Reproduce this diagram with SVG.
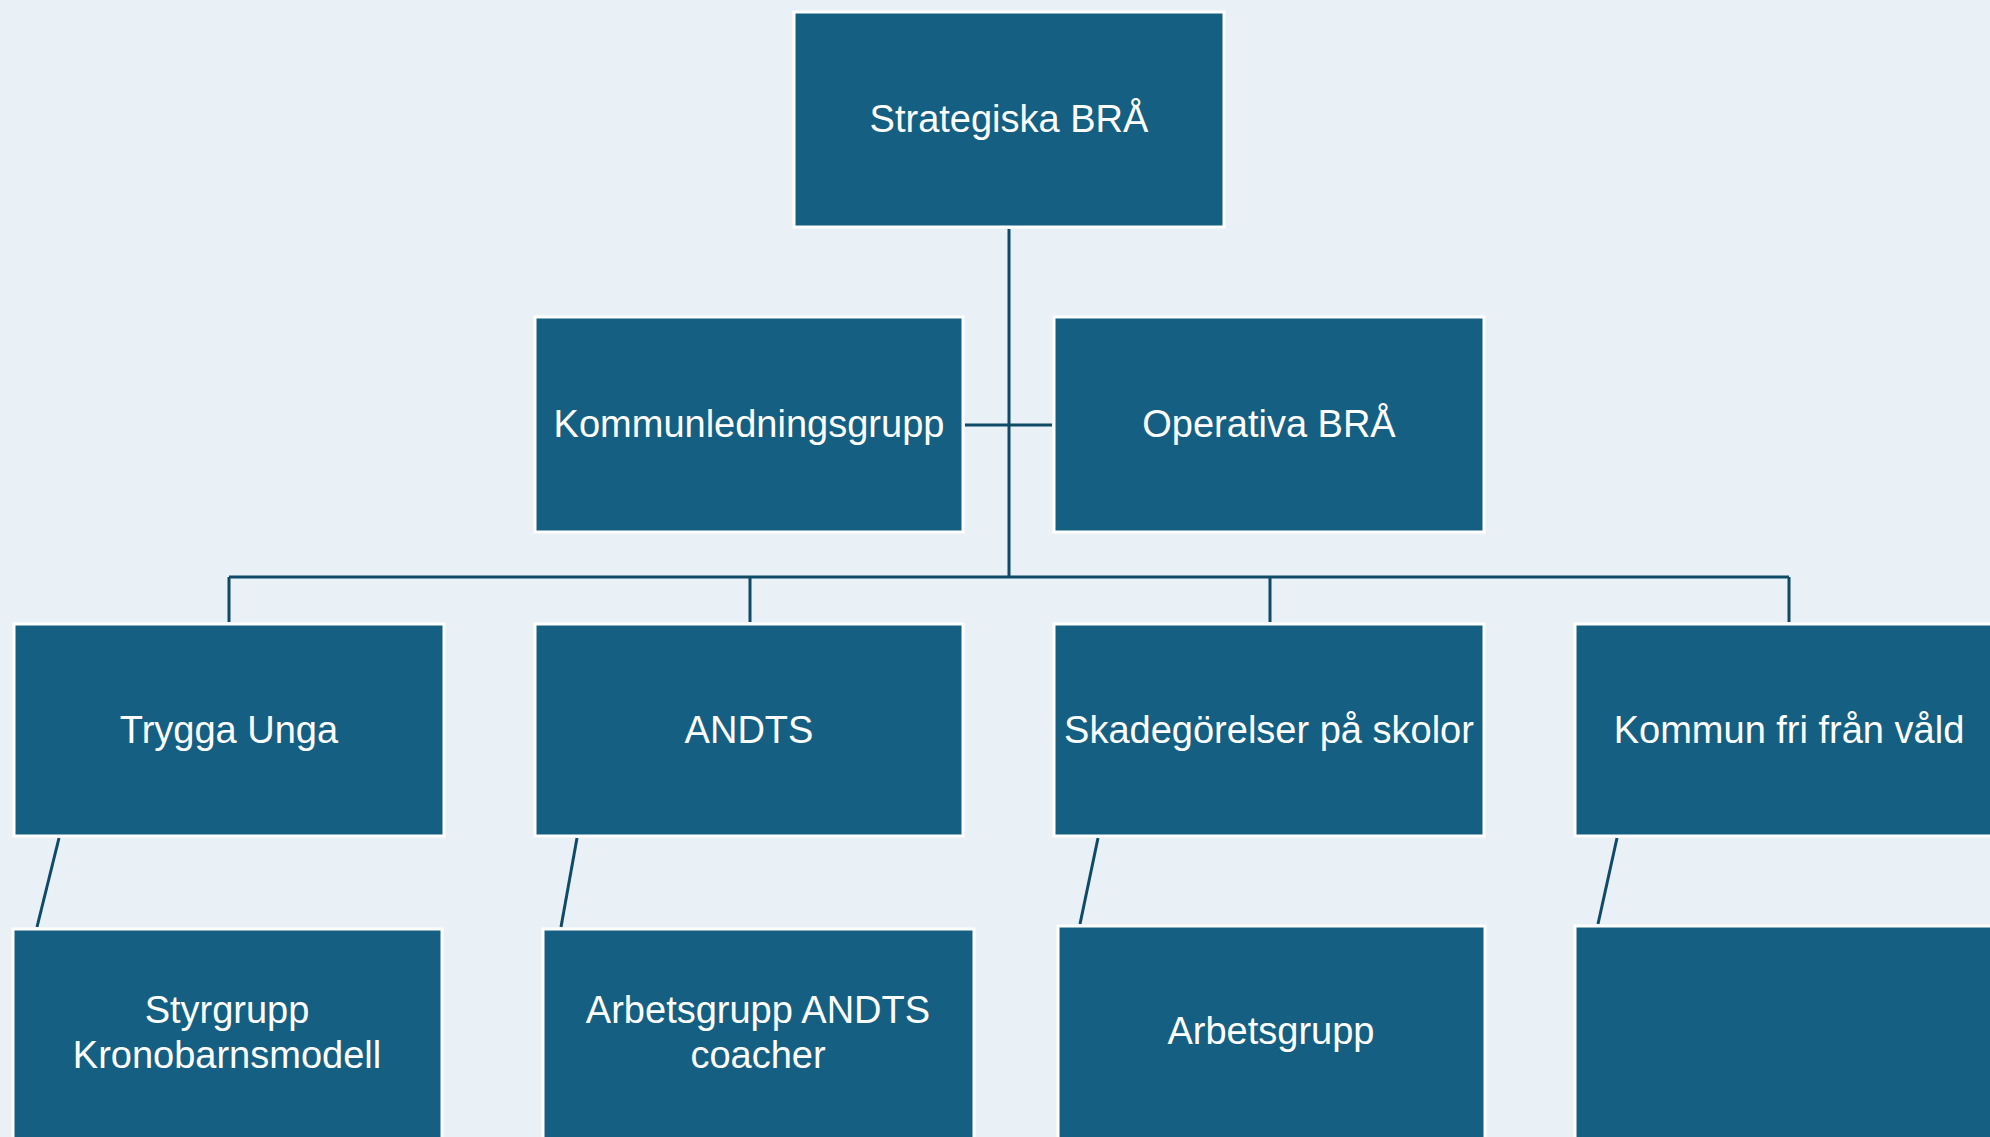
<svg xmlns="http://www.w3.org/2000/svg" width="1990" height="1137" viewBox="0 0 1990 1137">
<style>
.box{fill:#156082;stroke:#ffffff;stroke-width:3}
.lbl{font-family:"Liberation Sans",Arial,sans-serif;font-size:38px;fill:#ffffff;text-anchor:middle}
.con{stroke:#0f4a66;stroke-width:3;fill:none}
</style>
<rect width="1990" height="1137" fill="#e9f1f7"/>
<g id="connectors">
<path class="con" d="M1009 229 V577"/>
<path class="con" d="M965 425 H1052"/>
<path class="con" d="M229 577 H1789"/>
<path class="con" d="M229 577 V622 M750 577 V622 M1270 577 V622 M1789 577 V622"/>
<path class="con" d="M59 838 L37 927"/>
<path class="con" d="M577 838 L561 927"/>
<path class="con" d="M1098 838 L1080 924"/>
<path class="con" d="M1617 838 L1598 924"/>
</g>
<g id="strategiska"><rect class="box" x="794" y="12" width="430" height="215"/><text class="lbl" x="1009" y="132">Strategiska BRÅ</text></g>
<g id="kommunledningsgrupp"><rect class="box" x="535" y="317" width="428" height="215"/><text class="lbl" x="749" y="437">Kommunledningsgrupp</text></g>
<g id="operativa"><rect class="box" x="1054" y="317" width="430" height="215"/><text class="lbl" x="1269" y="437">Operativa BRÅ</text></g>
<g id="trygga"><rect class="box" x="14" y="624" width="430" height="212"/><text class="lbl" x="229" y="743">Trygga Unga</text></g>
<g id="andts"><rect class="box" x="535" y="624" width="428" height="212"/><text class="lbl" x="749" y="743">ANDTS</text></g>
<g id="skadegorelser"><rect class="box" x="1054" y="624" width="430" height="212"/><text class="lbl" x="1269" y="743">Skadegörelser på skolor</text></g>
<g id="kommunfri"><rect class="box" x="1575" y="624" width="430" height="212"/><text class="lbl" x="1789" y="743">Kommun fri från våld</text></g>
<g id="styrgrupp"><rect class="box" x="13" y="929" width="429" height="215"/><text class="lbl" x="227" y="1023">Styrgrupp</text><text class="lbl" x="227" y="1068">Kronobarnsmodell</text></g>
<g id="arbetsgrupp-andts"><rect class="box" x="543" y="929" width="431" height="215"/><text class="lbl" x="758" y="1023">Arbetsgrupp ANDTS</text><text class="lbl" x="758" y="1068">coacher</text></g>
<g id="arbetsgrupp"><rect class="box" x="1058" y="926" width="427" height="215"/><text class="lbl" x="1271" y="1044">Arbetsgrupp</text></g>
<g id="empty"><rect class="box" x="1575" y="926" width="430" height="215"/></g>
</svg>
